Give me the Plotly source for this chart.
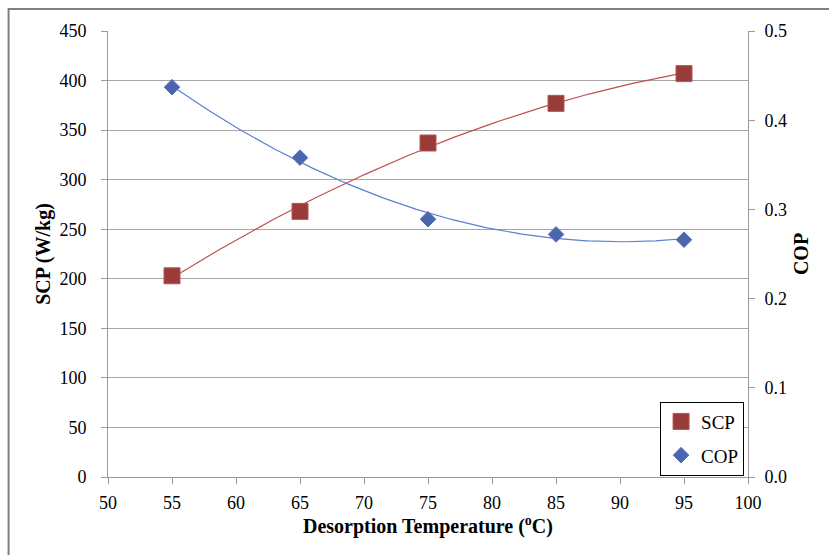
import numpy as np
import plotly.graph_objects as go

# Data
temperature = [55, 65, 75, 85, 95]
scp_values = [203, 268, 337, 377, 407]
cop_values = [0.437, 0.358, 0.289, 0.272, 0.266]

x_ticks = [50, 55, 60, 65, 70, 75, 80, 85, 90, 95, 100]

# 2nd-order polynomial trendlines (as in the original spreadsheet chart)
xf = np.linspace(min(temperature), max(temperature), 200)
scp_fit = np.polyval(np.polyfit(temperature, scp_values, 2), xf)
cop_fit = np.polyval(np.polyfit(temperature, cop_values, 2), xf)

SERIF = "Liberation Serif"
RED_LINE = "#C0504D"
RED_MARK = "#983B39"
BLUE_LINE = "#5B80CF"
BLUE_MARK = "#4A67AD"
AX = "#9A9A9A"

fig = go.Figure()
fig.add_trace(go.Scatter(x=xf, y=scp_fit, mode="lines", line=dict(color=RED_LINE, width=1.2),
                         showlegend=False, hoverinfo="skip"))
fig.add_trace(go.Scatter(x=xf, y=cop_fit, mode="lines", line=dict(color=BLUE_LINE, width=1.2),
                         showlegend=False, hoverinfo="skip", yaxis="y2"))
fig.add_trace(go.Scatter(x=temperature, y=scp_values, mode="markers", name="SCP", legendgroup="a",
                         marker=dict(symbol="square", size=16, color=RED_MARK,
                                     line=dict(color="#B85450", width=1))))
fig.add_trace(go.Scatter(x=temperature, y=cop_values, mode="markers", name="COP", yaxis="y2",
                         legendgroup="b",
                         marker=dict(symbol="diamond", size=12, color=BLUE_MARK,
                                     line=dict(color="#5673B8", width=1))))

L, R, T, B = 107.5, 81, 31, 77.5
W, H = 829, 555
pw, ph = W - L - R, H - T - B

tick_font = dict(family=SERIF, size=18, color="#000000")
title_font = dict(family=SERIF, size=20, color="#000000")

fig.update_layout(
    width=W, height=H,
    margin=dict(l=L, r=R, t=T, b=B),
    paper_bgcolor="white", plot_bgcolor="white",
    font=dict(family=SERIF, size=18, color="#000000"),
    xaxis=dict(range=[50, 100], tickvals=x_ticks, showgrid=False, zeroline=False,
               showline=True, linecolor=AX, linewidth=1,
               ticks="outside", ticklen=6, tickcolor=AX, tickfont=tick_font,
               ticklabelstandoff=3,
               title=dict(text="<b>Desorption Temperature (<sup>o</sup>C)</b>",
                          font=title_font, standoff=4)),
    yaxis=dict(range=[0, 450], dtick=50, showgrid=True, gridcolor="#A6A6A6", gridwidth=1.2,
               zeroline=False, showline=True, linecolor=AX, linewidth=1,
               ticks="outside", ticklen=6, tickcolor=AX, tickfont=tick_font,
               ticklabelstandoff=11,
               title=dict(text="<b>SCP (W/kg)</b>", font=title_font, standoff=3)),
    yaxis2=dict(range=[0, 0.5], dtick=0.1, tickformat=".1f", overlaying="y", side="right",
                showgrid=False, zeroline=False, showline=True, linecolor=AX, linewidth=1,
                ticks="outside", ticklen=6, tickcolor=AX, tickfont=tick_font,
                ticklabelstandoff=6,
                title=dict(text="<b>COP</b>", font=title_font, standoff=7)),
    legend=dict(x=(660 - L) / pw, y=1 - (402 - T) / ph, xanchor="left", yanchor="top",
                bgcolor="white", bordercolor="#000000", borderwidth=1,
                font=dict(family=SERIF, size=19, color="#000000"), itemsizing="trace",
                tracegroupgap=6),
    shapes=[dict(type="rect", xref="paper", yref="paper",
                 x0=(8 - L) / pw, x1=(840 - L) / pw,
                 y0=-(570 - (H - B)) / ph, y1=1 + (T - 9) / ph,
                 line=dict(color="#7F7F7F", width=2), layer="below")],
)

fig.write_html("out.html")
